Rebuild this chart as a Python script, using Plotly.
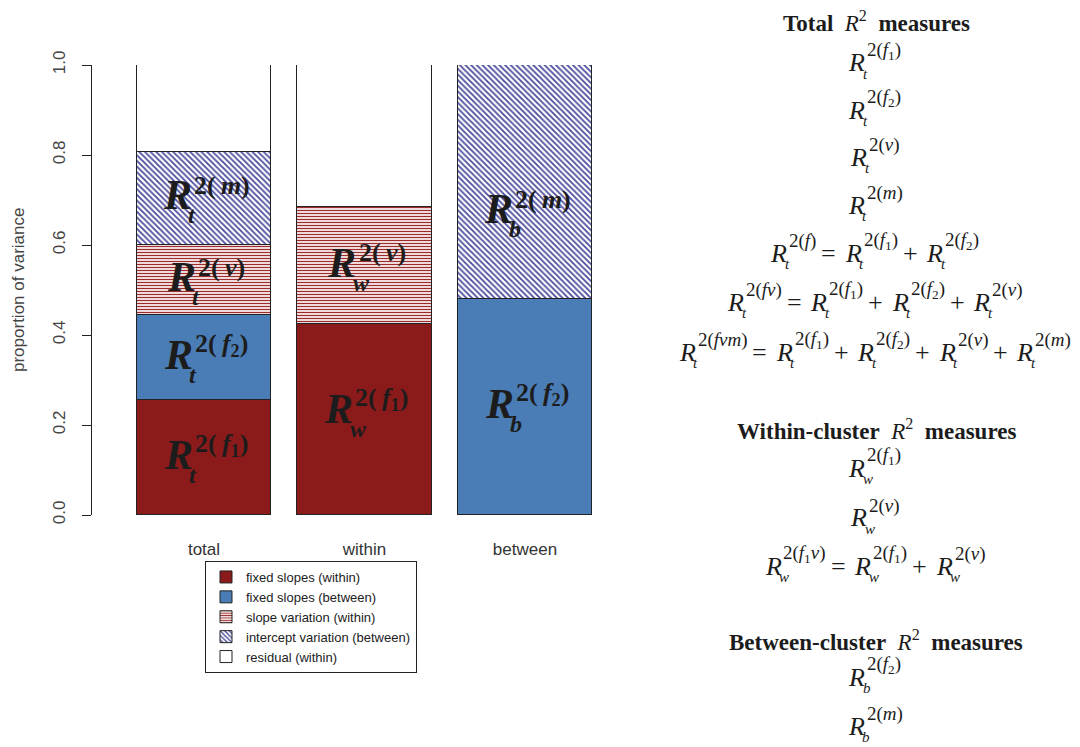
import plotly.graph_objects as go

# ---------------- data ----------------
categories = ["total", "within", "between"]
series_names = [
    "fixed slopes (within)",
    "fixed slopes (between)",
    "slope variation (within)",
    "intercept variation (between)",
    "residual (within)",
]
fixed_within = [0.255, 0.424, None]
fixed_between = [0.189, None, 0.480]
slope_variation = [0.156, 0.260, None]
intercept_variation = [0.207, None, 0.520]
residual = [0.193, 0.316, None]
y_tick_values = [0.0, 0.2, 0.4, 0.6, 0.8, 1.0]
y_tick_labels = ["0.0", "0.2", "0.4", "0.6", "0.8", "1.0"]

series_values = [fixed_within, fixed_between, slope_variation, intercept_variation, residual]

# labels drawn inside the bar segments: (series index, category index, subscript, superscript)
bar_labels = [
    (0, 0, "t", "2(f1)"), (1, 0, "t", "2(f2)"), (2, 0, "t", "2(v)"), (3, 0, "t", "2(m)"),
    (0, 1, "w", "2(f1)"), (2, 1, "w", "2(v)"),
    (1, 2, "b", "2(f2)"), (3, 2, "b", "2(m)"),
]

# right-hand text panel
panel_sections = [
    ("Total", [
        [("t", "2(f1)")],
        [("t", "2(f2)")],
        [("t", "2(v)")],
        [("t", "2(m)")],
        [("t", "2(f)"), "=", ("t", "2(f1)"), "+", ("t", "2(f2)")],
        [("t", "2(fv)"), "=", ("t", "2(f1)"), "+", ("t", "2(f2)"), "+", ("t", "2(v)")],
        [("t", "2(fvm)"), "=", ("t", "2(f1)"), "+", ("t", "2(f2)"), "+", ("t", "2(v)"), "+", ("t", "2(m)")],
    ]),
    ("Within-cluster", [
        [("w", "2(f1)")],
        [("w", "2(v)")],
        [("w", "2(f1v)"), "=", ("w", "2(f1)"), "+", ("w", "2(v)")],
    ]),
    ("Between-cluster", [
        [("b", "2(f2)")],
        [("b", "2(m)")],
    ]),
]

# ---------------- style / layout ----------------
PAGE_OFFSET = 8          # default body margin of the html page
W, H = 1080 - PAGE_OFFSET, 747 - PAGE_OFFSET
REF_LEFT, REF_TOP, REF_BOTTOM = 92, 65, 515   # plot area in window pixels
ML = REF_LEFT - PAGE_OFFSET
MT = REF_TOP - PAGE_OFFSET
MB = H - (REF_BOTTOM - PAGE_OFFSET)
PLOT_H = REF_BOTTOM - REF_TOP
PLOT_W = W - ML

fills = ["#8b1a1a", "#4a7db5", "white", "white", "white"]
patterns = [
    None,
    None,
    dict(shape="-", fgcolor="#9e2c2c", bgcolor="white", size=3, solidity=0.45, fillmode="replace"),
    dict(shape="\\", fgcolor="#4a4a9c", bgcolor="white", size=4, solidity=0.45, fillmode="replace"),
    None,
]

SERIF = "Liberation Serif"
SANS = "Liberation Sans"
TXT = "#1c1c1c"

label_yshift = {(0, 1): 11, (3, 2): -27}

section_header_y = [21, 429, 640]
section_row_y = [
    [63, 110, 157, 205, 253, 302, 352],
    [468, 518, 566],
    [677, 726],
]
PANEL_CX = 873


def px_x(px):
    """window pixel -> paper x"""
    return (px - REF_LEFT) / PLOT_W


def px_y(py):
    """window pixel -> paper y"""
    return (REF_BOTTOM - py) / PLOT_H


def sup_parts(code, bold=False, gap=False):
    widths_italic = {"f": 0.30, "v": 0.444, "m": 0.722}
    widths_bold = {"f": 0.333, "v": 0.444, "m": 0.778}
    html, w = "", 0.0
    for i, ch in enumerate(code):
        if ch.isdigit() and i > 0 and code[i - 1].isalpha():
            html += f"<sub>{ch}</sub>"
            w += 0.35
        elif ch.isalpha():
            html += f"<i>{ch}</i>"
            w += (widths_bold if bold else widths_italic)[ch]
        else:
            html += ch
            w += 0.5 if ch.isdigit() else 0.333
            if ch == "(" and gap:
                html += "\u2009"
                w += 0.2
    if bold:
        html = f"<b>{html}</b>"
    return html, w


fig = go.Figure()
for name, vals, col, pat in zip(series_names, series_values, fills, patterns):
    marker = dict(color=col, line=dict(color="#222222", width=1))
    if pat is not None:
        marker["pattern"] = pat
    fig.add_trace(go.Bar(
        x=list(range(len(categories))), y=vals, name=name, width=0.835,
        marker=marker, cliponaxis=False, hoverinfo="skip",
    ))

annotations = []

# ---- labels inside bars (positioned through the data axes) ----
R_BIG, SUP_BIG, SUB_BIG = 42, 26, 24
for si, ci, sub, code in bar_labels:
    base = sum(series_values[k][ci] or 0 for k in range(si))
    mid = base + series_values[si][ci] / 2
    sup_html, sup_w = sup_parts(code, bold=True, gap=True)
    gw = 0.74 * R_BIG + sup_w * SUP_BIG
    left = -gw / 2
    dy = label_yshift.get((si, ci), 3)
    common = dict(x=ci, y=mid, xref="x", yref="y", showarrow=False, xanchor="left", yanchor="middle")
    annotations.append(dict(common, text="<b><i>R</i></b>", xshift=left, yshift=dy,
                            font=dict(family=SERIF, size=R_BIG, color=TXT)))
    annotations.append(dict(common, text=sup_html, xshift=left + 0.74 * R_BIG, yshift=dy + 10,
                            font=dict(family=SERIF, size=SUP_BIG, color=TXT)))
    annotations.append(dict(common, text=f"<b><i>{sub}</i></b>", xshift=left + 0.60 * R_BIG, yshift=dy - 20,
                            font=dict(family=SERIF, size=SUB_BIG, color=TXT)))

# ---- right text panel ----
R_S, SUP_S, SUB_S = 26, 19, 15
OP_GAP = 28


def add_term(xl, yc, sub, code):
    sup_html, _ = sup_parts(code)
    common = dict(xref="paper", yref="paper", showarrow=False, xanchor="left", yanchor="middle")
    annotations.append(dict(common, x=px_x(xl), y=px_y(yc), text="<i>R</i>",
                            font=dict(family=SERIF, size=R_S, color=TXT)))
    annotations.append(dict(common, x=px_x(xl + 0.73 * R_S), y=px_y(yc - 12), text=sup_html,
                            font=dict(family=SERIF, size=SUP_S, color=TXT)))
    annotations.append(dict(common, x=px_x(xl + 0.56 * R_S), y=px_y(yc + 11), text=f"<i>{sub}</i>",
                            font=dict(family=SERIF, size=SUB_S, color=TXT)))


def term_width(code):
    return 0.73 * R_S + sup_parts(code)[1] * SUP_S


for (title, rows), hy, rys in zip(panel_sections, section_header_y, section_row_y):
    annotations.append(dict(
        x=px_x(PANEL_CX + 3), y=px_y(hy), xref="paper", yref="paper", showarrow=False,
        xanchor="center", yanchor="middle",
        text=f"<b>{title}</b>\u00a0\u00a0<i>R</i><sup>2</sup>\u00a0\u00a0<b>measures</b>",
        font=dict(family=SERIF, size=23, color=TXT),
    ))
    for row, ry in zip(rows, rys):
        total = sum(term_width(t[1]) if isinstance(t, tuple) else OP_GAP for t in row)
        x = PANEL_CX - total / 2
        for t in row:
            if isinstance(t, tuple):
                add_term(x, ry, t[0], t[1])
                x += term_width(t[1])
            else:
                annotations.append(dict(
                    x=px_x(x + OP_GAP / 2), y=px_y(ry), xref="paper", yref="paper", showarrow=False,
                    xanchor="center", yanchor="middle", text=t,
                    font=dict(family=SERIF, size=R_S, color=TXT),
                ))
                x += OP_GAP

# ---- y axis title ----
annotations.append(dict(
    x=px_x(18), y=0.5, xref="paper", yref="paper", showarrow=False, textangle=-90,
    xanchor="center", yanchor="middle", text="proportion of variance",
    font=dict(family=SANS, size=17, color="#444444"),
))

bar_center_px = 204
unit_px = 160.5
x_left = 0 - (bar_center_px - REF_LEFT) / unit_px
x_right_px = 620
x_right = 2 + (x_right_px - 525) / unit_px

fig.update_layout(
    width=W, height=H,
    margin=dict(l=ML, r=0, t=MT, b=MB, autoexpand=False),
    paper_bgcolor="white", plot_bgcolor="white",
    barmode="stack", bargap=0,
    showlegend=True,
    legend=dict(
        x=px_x(205), y=px_y(561), xanchor="left", yanchor="top",
        bordercolor="#222222", borderwidth=1, bgcolor="white",
        font=dict(family=SANS, size=13, color="#222222"),
        traceorder="normal",
    ),
    xaxis=dict(
        domain=[0, (x_right_px - REF_LEFT) / PLOT_W], range=[x_left, x_right],
        tickvals=list(range(len(categories))), ticktext=categories,
        showline=False, showgrid=False, zeroline=False, ticks="",
        tickfont=dict(family=SANS, size=17, color="#333333"),
        ticklabelstandoff=22, fixedrange=True,
    ),
    yaxis=dict(
        range=[0, 1], tickvals=y_tick_values, ticktext=y_tick_labels,
        showline=True, linecolor="#222222", linewidth=1,
        ticks="outside", ticklen=9, tickcolor="#222222", tickwidth=1,
        tickangle=-90, showgrid=False, zeroline=False,
        tickfont=dict(family=SANS, size=17, color="#444444"),
        ticklabelstandoff=10, fixedrange=True,
    ),
    annotations=annotations,
)

fig.write_html("out.html")
